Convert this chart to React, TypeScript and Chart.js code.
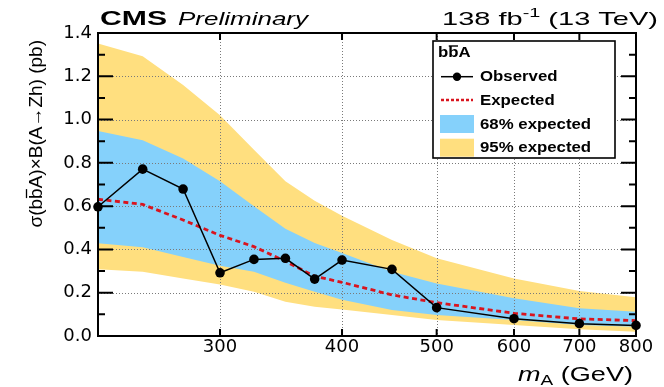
import React, { useEffect, useRef } from 'react';
import { Chart, registerables } from 'chart.js';

Chart.register(...registerables);

// ---- data ----
const massPoints = [225, 250, 275, 300, 325, 350, 375, 400, 450, 500, 600, 700, 800];
const observedLimit = [0.597, 0.771, 0.679, 0.292, 0.354, 0.359, 0.263, 0.351, 0.308, 0.131, 0.080, 0.057, 0.049];
const expectedLimit = [0.632, 0.608, 0.536, 0.465, 0.413, 0.345, 0.276, 0.248, 0.190, 0.154, 0.105, 0.079, 0.071];
const band68Upper = [0.947, 0.905, 0.820, 0.715, 0.600, 0.495, 0.430, 0.383, 0.297, 0.243, 0.174, 0.128, 0.112];
const band68Lower = [0.428, 0.410, 0.365, 0.325, 0.297, 0.246, 0.205, 0.168, 0.120, 0.097, 0.074, 0.051, 0.043];
const band95Upper = [1.352, 1.293, 1.160, 1.020, 0.860, 0.715, 0.625, 0.556, 0.443, 0.359, 0.266, 0.208, 0.179];
const band95Lower = [0.308, 0.297, 0.266, 0.238, 0.205, 0.158, 0.135, 0.122, 0.097, 0.074, 0.051, 0.031, 0.020];

const xTickValues = [300, 400, 500, 600, 700, 800];
const xGridValues = [300, 400, 500, 600, 700];
const xMin = 225;
const xMax = 800;
const yMin = 0;
const yMax = 1.4;
const yStep = 0.2;
const yMinorStep = 0.1;

const legendHeader = 'bbA';
const legendLabels = ['Observed', 'Expected', '68% expected', '95% expected'];

const BLUE = '#85D1FB';
const YELLOW = '#FFDF7F';
const RED = '#d9141e';
const SANS = '"Liberation Sans", Arial, sans-serif';
const TICKFONT = '"DejaVu Sans", sans-serif';

type Part = { text: string; font: string; dy?: number };

function drawParts(ctx: CanvasRenderingContext2D, parts: Part[], left: number, right: number, baseline: number) {
  ctx.save();
  let total = 0;
  const widths = parts.map((p) => {
    ctx.font = p.font;
    const w = ctx.measureText(p.text).width;
    total += w;
    return w;
  });
  const sx = (right - left) / total;
  ctx.translate(left, baseline);
  ctx.scale(sx, 1);
  ctx.fillStyle = '#000';
  ctx.textAlign = 'left';
  ctx.textBaseline = 'alphabetic';
  let cx = 0;
  parts.forEach((p, i) => {
    ctx.font = p.font;
    ctx.fillText(p.text, cx, p.dy || 0);
    cx += widths[i];
  });
  ctx.restore();
}

const decorPlugin = {
  id: 'cmsDecor',
  afterDatasetDraw(chart: any, args: any) {
    if (args.index !== 2) return;
    const { ctx, chartArea } = chart;
    const { left, right, top, bottom } = chartArea;
    const xs = chart.scales.x;
    const ys = chart.scales.y;
    ctx.save();
    ctx.beginPath();
    ctx.rect(left, top, right - left, bottom - top);
    ctx.clip();
    ctx.strokeStyle = '#7a7a7a';
    ctx.lineWidth = 1;
    ctx.setLineDash([1, 2]);
    xGridValues.forEach((v) => {
      const px = Math.round(xs.getPixelForValue(v)) + 0.5;
      ctx.beginPath();
      ctx.moveTo(px, top);
      ctx.lineTo(px, bottom);
      ctx.stroke();
    });
    ys.ticks.forEach((t: any) => {
      if (t.value <= yMin + 1e-9 || t.value >= yMax - 1e-9) return;
      const py = Math.round(ys.getPixelForValue(t.value)) + 0.5;
      ctx.beginPath();
      ctx.moveTo(left, py);
      ctx.lineTo(right, py);
      ctx.stroke();
    });
    ctx.restore();
  },
  afterDraw(chart: any) {
    const { ctx, chartArea } = chart;
    const { left, right, top, bottom } = chartArea;
    const xs = chart.scales.x;
    const ys = chart.scales.y;

    // frame ticks (inward)
    ctx.save();
    ctx.strokeStyle = '#000';
    ctx.lineWidth = 2;
    const nMinor = Math.round((yMax - yMin) / yMinorStep);
    for (let i = 0; i <= nMinor; i++) {
      const v = yMin + i * yMinorStep;
      const py = ys.getPixelForValue(v);
      const major = Math.abs(v / yStep - Math.round(v / yStep)) < 1e-6;
      const len = major ? 15 : 7;
      ctx.beginPath();
      ctx.moveTo(left, py);
      ctx.lineTo(left + len, py);
      ctx.moveTo(right, py);
      ctx.lineTo(right - len, py);
      ctx.stroke();
    }
    xTickValues.forEach((v) => {
      if (v >= xMax) return;
      const px = xs.getPixelForValue(v);
      ctx.beginPath();
      ctx.moveTo(px, bottom);
      ctx.lineTo(px, bottom - 7);
      ctx.moveTo(px, top);
      ctx.lineTo(px, top + 7);
      ctx.stroke();
    });
    ctx.strokeRect(left, top, right - left, bottom - top);
    ctx.restore();

    // legend
    ctx.save();
    const lx0 = 433, ly0 = 41, lx1 = 615, ly1 = 158;
    ctx.fillStyle = '#fff';
    ctx.fillRect(lx0, ly0, lx1 - lx0, ly1 - ly0);
    ctx.strokeStyle = '#000';
    ctx.lineWidth = 1.6;
    ctx.strokeRect(lx0, ly0, lx1 - lx0, ly1 - ly0);
    const sx = 1.12;
    const lfont = `bold 15px ${SANS}`;
    const drawLabel = (text: string, x: number, yc: number) => {
      ctx.save();
      ctx.font = lfont;
      ctx.fillStyle = '#000';
      ctx.textAlign = 'left';
      ctx.textBaseline = 'middle';
      ctx.translate(x, yc);
      ctx.scale(sx, 1);
      ctx.fillText(text, 0, 0);
      ctx.restore();
    };
    // header with overline on second b
    drawLabel(legendHeader, 438, 53);
    ctx.font = lfont;
    const wb = ctx.measureText('b').width * sx;
    ctx.beginPath();
    ctx.lineWidth = 1.4;
    ctx.moveTo(438 + wb + 0.5, 46);
    ctx.lineTo(438 + 2 * wb - 0.5, 46);
    ctx.stroke();

    const rows = [76.7, 100, 124, 147.7];
    // observed
    ctx.lineWidth = 1.5;
    ctx.strokeStyle = '#000';
    ctx.beginPath();
    ctx.moveTo(441, rows[0]);
    ctx.lineTo(473, rows[0]);
    ctx.stroke();
    ctx.fillStyle = '#000';
    ctx.beginPath();
    ctx.arc(457, rows[0], 4.2, 0, Math.PI * 2);
    ctx.fill();
    // expected
    ctx.strokeStyle = RED;
    ctx.lineWidth = 2.6;
    ctx.setLineDash([3, 2]);
    ctx.beginPath();
    ctx.moveTo(441, rows[1]);
    ctx.lineTo(473, rows[1]);
    ctx.stroke();
    ctx.setLineDash([]);
    // boxes
    ctx.fillStyle = BLUE;
    ctx.fillRect(440, rows[2] - 9, 34, 18);
    ctx.fillStyle = YELLOW;
    ctx.fillRect(440, rows[3] - 9, 34, 18);
    legendLabels.forEach((t, i) => drawLabel(t, 480, rows[i] + 0.5));
    ctx.restore();

    // header texts
    drawParts(ctx, [{ text: 'CMS', font: `bold 21px ${SANS}` }], 100, 167, 25);
    drawParts(ctx, [{ text: 'Preliminary', font: `italic 19px ${SANS}` }], 178, 308, 25);
    drawParts(
      ctx,
      [
        { text: '138 fb', font: `19px ${SANS}` },
        { text: '-1', font: `13px ${SANS}`, dy: -8 },
        { text: ' (13 TeV)', font: `19px ${SANS}` },
      ],
      442,
      658,
      25
    );

    // x title
    drawParts(
      ctx,
      [
        { text: 'm', font: `italic 20px ${SANS}` },
        { text: 'A', font: `14px ${SANS}`, dy: 4 },
        { text: ' (GeV)', font: `20px ${SANS}` },
      ],
      518,
      633,
      381
    );

    // y title, rotated
    ctx.save();
    const yfont = `19px ${SANS}`;
    const ytext = 'σ(bbA)×B(A→Zh) (pb)';
    ctx.font = yfont;
    ctx.fillStyle = '#000';
    ctx.strokeStyle = '#000';
    ctx.translate(42, 40);
    ctx.rotate(-Math.PI / 2);
    ctx.textAlign = 'right';
    ctx.textBaseline = 'alphabetic';
    ctx.fillText(ytext, 0, 0);
    const W = ctx.measureText(ytext).width;
    const pre = ctx.measureText('σ(b').width;
    const bw = ctx.measureText('b').width;
    ctx.lineWidth = 1.3;
    ctx.beginPath();
    ctx.moveTo(-W + pre + 0.8, -15.5);
    ctx.lineTo(-W + pre + bw - 0.8, -15.5);
    ctx.stroke();
    ctx.restore();
  },
};

export default function App() {
  const canvasRef = useRef<HTMLCanvasElement | null>(null);

  useEffect(() => {
    document.body.style.margin = '0';
    const canvas = canvasRef.current;
    if (!canvas) return;
    const toPts = (arr: number[]) => massPoints.map((m, i) => ({ x: m, y: arr[i] }));
    const none = 'rgba(0,0,0,0)';
    const chart = new Chart(canvas, {
      type: 'line',
      data: {
        datasets: [
          {
            label: legendLabels[0],
            data: toPts(observedLimit),
            borderColor: '#000',
            backgroundColor: '#000',
            borderWidth: 1.5,
            pointRadius: 4.8,
            pointBackgroundColor: '#000',
            pointBorderColor: '#000',
            pointBorderWidth: 0,
            fill: false,
            tension: 0,
            clip: false,
          },
          {
            label: legendLabels[1],
            data: toPts(expectedLimit),
            borderColor: RED,
            borderWidth: 2.8,
            borderDash: [5, 3.5],
            pointRadius: 0,
            fill: false,
            tension: 0,
          },
          {
            label: legendLabels[2],
            data: toPts(band68Upper),
            borderColor: none,
            borderWidth: 0,
            pointRadius: 0,
            backgroundColor: BLUE,
            fill: '+1',
            tension: 0,
          },
          {
            label: '68 lower',
            data: toPts(band68Lower),
            borderColor: none,
            borderWidth: 0,
            pointRadius: 0,
            fill: false,
            tension: 0,
          },
          {
            label: legendLabels[3],
            data: toPts(band95Upper),
            borderColor: none,
            borderWidth: 0,
            pointRadius: 0,
            backgroundColor: YELLOW,
            fill: '+1',
            tension: 0,
          },
          {
            label: '95 lower',
            data: toPts(band95Lower),
            borderColor: none,
            borderWidth: 0,
            pointRadius: 0,
            fill: false,
            tension: 0,
          },
        ],
      },
      options: {
        responsive: false,
        animation: false,
        devicePixelRatio: 1,
        layout: { padding: { top: 33, right: 28, left: 0, bottom: 0 } },
        plugins: {
          legend: { display: false },
          tooltip: { enabled: false },
        },
        scales: {
          x: {
            type: 'logarithmic',
            min: xMin,
            max: xMax,
            grid: { display: false, drawTicks: false },
            border: { display: false },
            ticks: {
              color: '#000',
              font: { family: TICKFONT, size: 18 },
              padding: 1,
              autoSkip: false,
              maxRotation: 0,
              minRotation: 0,
              callback: (v: any) => String(v),
            },
            afterBuildTicks: (scale: any) => {
              scale.ticks = xTickValues.map((v) => ({ value: v }));
            },
            afterFit: (scale: any) => {
              scale.height = 51;
            },
          },
          y: {
            type: 'linear',
            min: yMin,
            max: yMax,
            grid: { display: false, drawTicks: false },
            border: { display: false },
            ticks: {
              stepSize: yStep,
              color: '#000',
              font: { family: TICKFONT, size: 18 },
              padding: 6,
              callback: (v: any) => Number(v).toFixed(1),
            },
            afterFit: (scale: any) => {
              scale.width = 98;
            },
          },
        },
      } as any,
      plugins: [decorPlugin],
    });
    return () => chart.destroy();
  }, []);

  return (
    <div style={{ width: 664, height: 387 }}>
      <canvas ref={canvasRef} width={664} height={387} />
    </div>
  );
}
